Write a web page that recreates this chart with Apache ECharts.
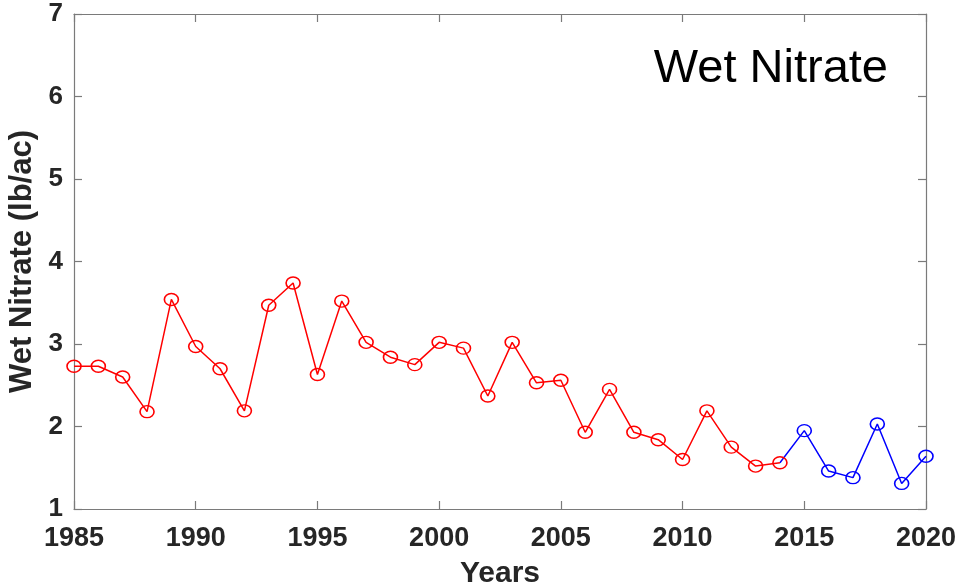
<!DOCTYPE html>
<html>
<head>
<meta charset="utf-8">
<title>Wet Nitrate</title>
<script src="https://cdn.jsdelivr.net/npm/echarts@6/dist/echarts.min.js"></script>
<style>
  html, body { margin: 0; padding: 0; background: #fff; }
  #chart { width: 964px; height: 587px; }
</style>
</head>
<body>
<div id="chart"></div>
<script>
// measured years (red) and later years (blue)
const yearsA = [1985, 1986, 1987, 1988, 1989, 1990, 1991, 1992, 1993, 1994,
  1995, 1996, 1997, 1998, 1999, 2000, 2001, 2002, 2003, 2004,
  2005, 2006, 2007, 2008, 2009, 2010, 2011, 2012, 2013, 2014];
const valuesA = [2.73, 2.73, 2.60, 2.18, 3.54, 2.97, 2.70, 2.19, 3.47, 3.74,
  2.63, 3.52, 3.02, 2.84, 2.75, 3.02, 2.95, 2.37, 3.02, 2.53,
  2.56, 1.93, 2.45, 1.93, 1.84, 1.60, 2.19, 1.75, 1.52, 1.56];
const yearsB = [2014, 2015, 2016, 2017, 2018, 2019, 2020];
const valuesB = [1.56, 1.95, 1.46, 1.38, 2.03, 1.31, 1.64];

const xTicks = [1985, 1990, 1995, 2000, 2005, 2010, 2015, 2020];
const yTicks = [1, 2, 3, 4, 5, 6, 7];

const font = 'Liberation Sans, Arial, Helvetica, sans-serif';
const boxColor = '#7a7a7a';
const textColor = '#262626';

const chart = echarts.init(document.getElementById('chart'));

const pairs = (xs, ys) => xs.map((x, i) => [x, ys[i]]);

const baseAxis = {
  axisLine: { show: true, lineStyle: { color: boxColor, width: 1.2 } },
  axisTick: { show: true, inside: true, length: 8, lineStyle: { color: boxColor, width: 1.2 } },
  splitLine: { show: false }
};

const option = {
  backgroundColor: '#fff',
  animation: false,
  title: {
    text: 'Wet Nitrate',
    right: 71,
    top: 41,
    textStyle: { fontFamily: font, fontSize: 47, fontWeight: 'normal', color: '#000' }
  },
  grid: { left: 74, right: 38, top: 14, bottom: 78, outerBoundsMode: 'none' },
  xAxis: [
    Object.assign({}, baseAxis, {
      type: 'value',
      min: xTicks[0],
      max: xTicks[xTicks.length - 1],
      interval: 5,
      name: 'Years',
      nameLocation: 'middle',
      nameGap: 50,
      nameTextStyle: { fontFamily: font, fontSize: 30, fontWeight: 'bold', color: textColor },
      axisLabel: {
        margin: 16, fontFamily: font, fontSize: 27, fontWeight: 'bold', color: textColor,
        formatter: v => String(v)
      }
    }),
    Object.assign({}, baseAxis, {
      type: 'value', position: 'top',
      min: xTicks[0], max: xTicks[xTicks.length - 1], interval: 5,
      axisLabel: { show: false }
    })
  ],
  yAxis: [
    Object.assign({}, baseAxis, {
      type: 'value',
      min: yTicks[0],
      max: yTicks[yTicks.length - 1],
      interval: 1,
      name: 'Wet Nitrate (lb/ac)',
      nameLocation: 'middle',
      nameGap: 33,
      nameTextStyle: { fontFamily: font, fontSize: 31, fontWeight: 'bold', color: textColor },
      axisLabel: { margin: 11, fontFamily: font, fontSize: 26, fontWeight: 'bold', color: textColor }
    }),
    Object.assign({}, baseAxis, {
      type: 'value', position: 'right',
      min: yTicks[0], max: yTicks[yTicks.length - 1], interval: 1,
      axisLabel: { show: false }
    })
  ],
  series: [
    {
      type: 'line',
      data: pairs(yearsB, valuesB),
      symbol: (val, p) => (p.dataIndex === 0 ? 'none' : 'circle'),
      symbolSize: [14, 12],
      lineStyle: { color: '#0000ff', width: 1.5 },
      itemStyle: { color: 'rgba(0,0,0,0)', borderColor: '#0000ff', borderWidth: 1.5 },
      z: 2
    },
    {
      type: 'line',
      data: pairs(yearsA, valuesA),
      symbol: 'circle',
      symbolSize: [14, 12],
      lineStyle: { color: '#ff0000', width: 1.5 },
      itemStyle: { color: 'rgba(0,0,0,0)', borderColor: '#ff0000', borderWidth: 1.5 },
      z: 3
    }
  ]
};

chart.setOption(option);
</script>
</body>
</html>
